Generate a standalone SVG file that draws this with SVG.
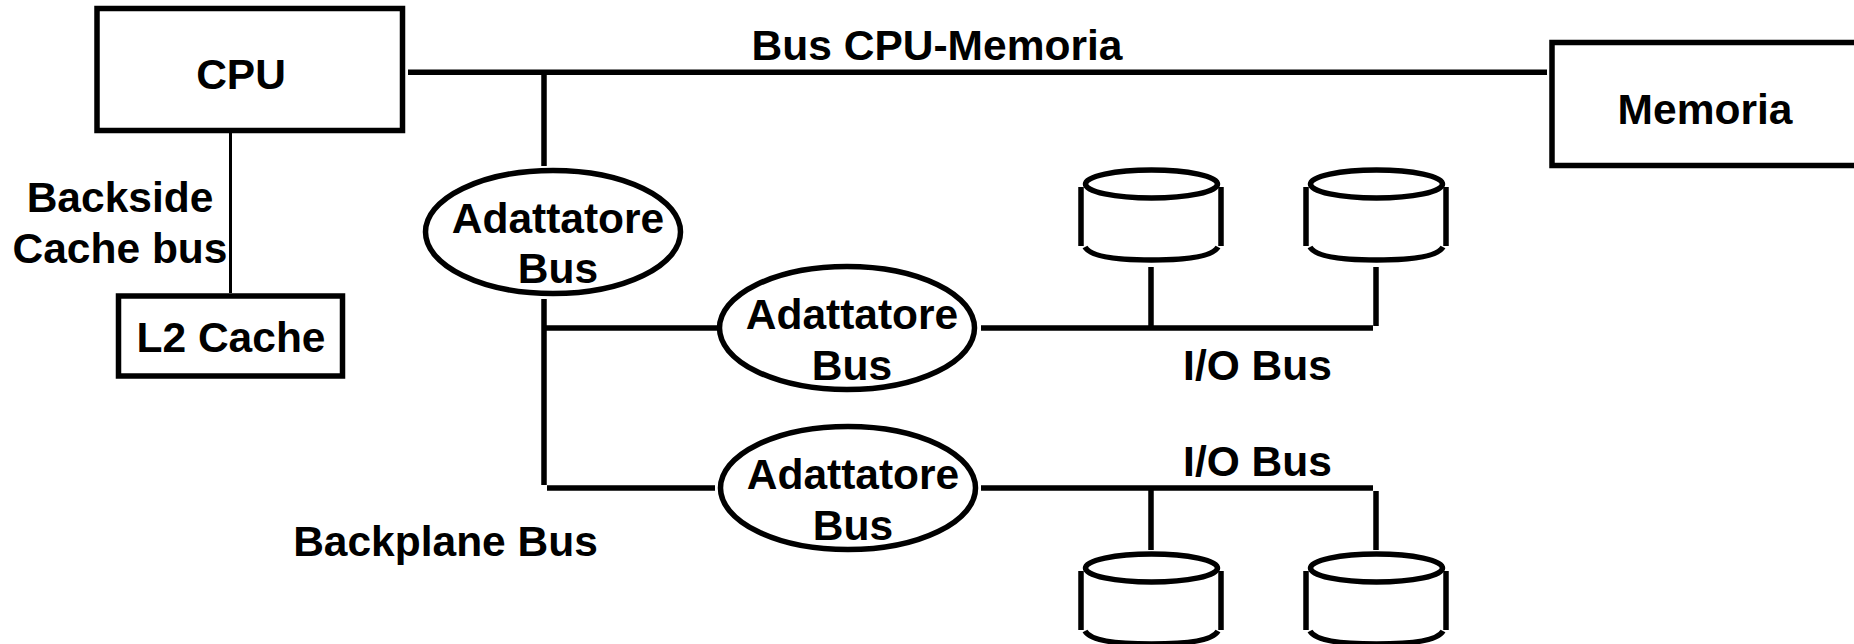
<svg xmlns="http://www.w3.org/2000/svg" width="1854" height="644" viewBox="0 0 1854 644">
<style>
text{font-family:"Liberation Sans",Arial,sans-serif;font-weight:bold;font-size:42.5px;fill:#000;text-anchor:middle}
.s{fill:#fff;stroke:#000;stroke-width:5.5}
.n{fill:none;stroke:#000;stroke-width:5.5}
.b{stroke:#000;stroke-width:5.5;fill:none}
</style>
<defs>
<g id="disk">
<ellipse class="s" cx="1151.5" cy="184" rx="66" ry="14"/>
<path class="n" d="M1081 187V246M1221 187V246M1085 247Q1092 260 1151.5 260Q1211 260 1218 247"/>
</g>
</defs>
<rect width="1854" height="644" fill="#fff"/>
<g id="connectors">
<path class="b" d="M408 72.300H1547M544 72V166M544 299V485M544 328H720M547 488H715M981 328H1373M1151 328V267M1376 326V267M981 488H1373M1151 488V550M1376 491V550"/>
<path class="b" style="stroke-width:3" d="M230.500 133V293"/>
</g>
<g id="cpu"><rect class="s" x="97" y="8.500" width="305.500" height="122"/><text x="241" y="89">CPU</text></g>
<g id="l2-cache"><rect class="s" x="118.500" y="296" width="224" height="80"/><text x="231" y="352">L2 Cache</text></g>
<g id="memoria"><rect class="s" x="1552" y="42.500" width="320" height="123"/><text x="1705" y="124">Memoria</text></g>
<g id="adapter-1"><ellipse class="s" cx="553" cy="232" rx="127.500" ry="61.500"/><text x="558" y="232.500">Adattatore</text><text x="558" y="283">Bus</text></g>
<g id="adapter-2"><ellipse class="s" cx="847" cy="328" rx="127.500" ry="61.500"/><text x="852" y="328.500">Adattatore</text><text x="852" y="380">Bus</text></g>
<g id="adapter-3"><ellipse class="s" cx="848" cy="488" rx="127.500" ry="61.500"/><text x="853" y="488.500">Adattatore</text><text x="853" y="539.500">Bus</text></g>
<g id="disk-1"><use href="#disk"/></g>
<g id="disk-2"><use href="#disk" x="225"/></g>
<g id="disk-3"><use href="#disk" y="384"/></g>
<g id="disk-4"><use href="#disk" x="225" y="384"/></g>
<g id="labels">
<text x="937" y="60">Bus CPU-Memoria</text>
<text x="120" y="212">Backside</text>
<text x="120" y="262.500">Cache bus</text>
<text x="445.500" y="556">Backplane Bus</text>
<text x="1257.500" y="380">I/O Bus</text>
<text x="1257.500" y="476">I/O Bus</text>
</g>
</svg>
